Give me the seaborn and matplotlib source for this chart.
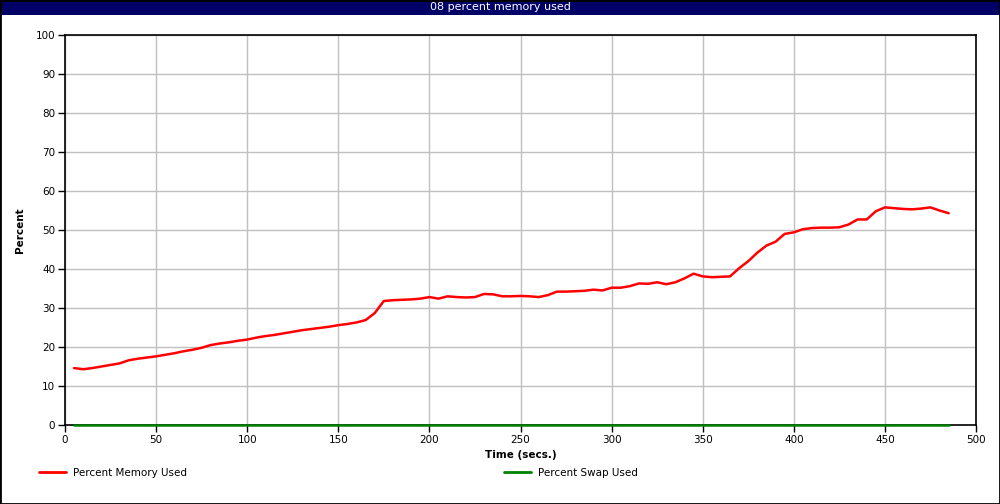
import numpy as np
import pandas as pd
import matplotlib
matplotlib.use("Agg")
import matplotlib.pyplot as plt
import seaborn as sns
from matplotlib.patches import Rectangle
from matplotlib.lines import Line2D

time_secs = list(range(5, 490, 5))
mem_used = [14.6, 14.3, 14.6, 15.0, 15.4, 15.8, 16.6, 17.0, 17.3, 17.6,
            18.0, 18.4, 18.9, 19.3, 19.8, 20.5, 20.9, 21.2, 21.6, 21.9,
            22.4, 22.8, 23.1, 23.5, 23.9, 24.3, 24.6, 24.9, 25.2, 25.6,
            25.9, 26.3, 26.9, 28.7, 31.8, 32.0, 32.1, 32.2, 32.4, 32.8,
            32.4, 33.0, 32.8, 32.7, 32.8, 33.6, 33.5, 33.0, 33.0, 33.1,
            33.0, 32.8, 33.3, 34.2, 34.2, 34.3, 34.4, 34.7, 34.5, 35.2,
            35.2, 35.6, 36.3, 36.2, 36.6, 36.1, 36.6, 37.6, 38.8, 38.1,
            37.9, 38.0, 38.1, 40.2, 42.0, 44.2, 46.0, 47.0, 49.0, 49.4,
            50.2, 50.5, 50.6, 50.6, 50.7, 51.4, 52.7, 52.7, 54.8, 55.8,
            55.6, 55.4, 55.3, 55.5, 55.8, 55.0, 54.3]
swap_used = [0.0] * len(time_secs)
series_names = ["Percent Memory Used", "Percent Swap Used"]
series_colors = ["#ff0000", "#008000"]
title = "08 percent memory used"
x_label = "Time (secs.)"
y_label = "Percent"
x_ticks = list(range(0, 501, 50))
y_ticks = list(range(0, 101, 10))

df = pd.DataFrame({
    "time": time_secs * 2,
    "value": mem_used + swap_used,
    "series": [series_names[0]] * len(time_secs) + [series_names[1]] * len(time_secs),
})

sns.set_style("white")
plt.rcParams["font.family"] = ["DejaVu Sans"]
plt.rcParams["text.color"] = "black"
plt.rcParams["axes.labelcolor"] = "black"
plt.rcParams["xtick.color"] = "black"
plt.rcParams["ytick.color"] = "black"

fig = plt.figure(figsize=(10, 5.04), dpi=100)
ax = fig.add_axes([0.065, 1 - 425 / 504, 0.911, 390 / 504])

sns.lineplot(data=df, x="time", y="value", hue="series",
             palette=dict(zip(series_names, series_colors)),
             linewidth=1.8, ax=ax, legend=False)
for ln in ax.lines:
    ln.set_zorder(4)
    ln.set_clip_on(False)

ax.set_xlim(0, 500)
ax.set_ylim(0, 100)
ax.set_xticks(x_ticks)
ax.set_yticks(y_ticks)
ax.tick_params(axis="both", direction="out", length=5, width=1, colors="black",
               labelsize=7.5, pad=2, bottom=True, left=True)
ax.grid(True, color="#c0c0c0", linewidth=1)
ax.set_axisbelow(True)
for s in ax.spines.values():
    s.set_color("black")
    s.set_linewidth(1.2)
    s.set_visible(True)
    s.set_zorder(2.5)
ax.set_xlabel(x_label, fontsize=7.5, fontweight="bold", labelpad=4, color="black")
ax.set_ylabel(y_label, fontsize=7.5, fontweight="bold", labelpad=8, color="black")

# title bar
fig.patches.append(Rectangle((0, 1 - 15 / 504), 1, 15 / 504, transform=fig.transFigure,
                             facecolor="#000066", edgecolor="none", zorder=0))
fig.text(0.5, 1 - 7.5 / 504, title, color="white", ha="center", va="center", fontsize=8)
# figure border
fig.patches.append(Rectangle((0, 0), 1, 1, transform=fig.transFigure,
                             facecolor="none", edgecolor="black", linewidth=2, zorder=5))

handles = [Line2D([], [], color=c, linewidth=2) for c in series_colors]
fig.legend([handles[0]], [series_names[0]], loc="center left",
           bbox_to_anchor=(0.030, 1 - 473 / 504), frameon=False,
           fontsize=7.5, handlelength=2.6, handletextpad=0.6)
fig.legend([handles[1]], [series_names[1]], loc="center left",
           bbox_to_anchor=(0.495, 1 - 473 / 504), frameon=False,
           fontsize=7.5, handlelength=2.6, handletextpad=0.6)

fig.savefig("out.png", dpi=100)
